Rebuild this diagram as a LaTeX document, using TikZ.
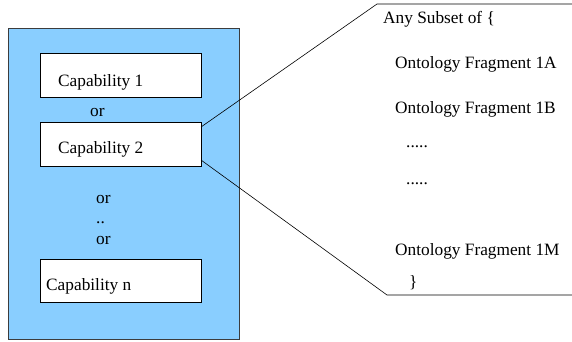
\documentclass[tikz,border=0pt]{standalone}
\usepackage{fontspec}
\setmainfont{Liberation Serif}
\newfontfamily\labelserif{Liberation Serif}
\usetikzlibrary{calc}
\definecolor{panelblue}{RGB}{137,206,255}
\definecolor{edgegray}{RGB}{60,60,60}
\tikzset{
  txt/.style={anchor=base west, inner sep=0pt, font=\labelserif\fontsize{17.3}{20}\selectfont},
  capbox/.style={draw=black, line width=0.6pt, fill=white},
  link/.style={draw=black, line width=0.6pt},
}
\begin{document}
\begin{tikzpicture}[x=1pt, y=-1pt]
  \useasboundingbox (0,0) rectangle (572,341);

  % capability container
  \filldraw[fill=panelblue, draw=edgegray, line width=0.8pt] (8.5,28.5) rectangle (239,339);

  % capability boxes
  \draw[capbox] (40,53) rectangle (201,97);
  \draw[capbox] (40,122) rectangle (201,166);
  \coordinate (cap2ne) at (201,122);
  \coordinate (cap2se) at (201,166);
  \draw[capbox] (40,259) rectangle (201,302);

  \node[txt] (t1) at (58,86) {Capability 1};
  \node[txt] (or1) at (90,116) {or};
  \node[txt] (t2) at (58,153) {Capability 2};
  \node[txt] (or2) at (96,203) {or};
  \node[txt] (dd) at (96,223) {..};
  \node[txt] (or3) at (96,244) {or};
  \node[txt] (tn) at (46,290) {Capability n};

  % callout outline
  \coordinate (ua) at ($(cap2ne)+(0,5)$);
  \coordinate (ub) at ($(cap2se)+(0,-6)$);
  \coordinate (topl) at (377,4);
  \coordinate (topr) at (572,4);
  \coordinate (botl) at (387,295);
  \coordinate (botr) at (572,295);
  \draw[link] (ua) -- (topl) -- (topr);
  \draw[link] (ub) -- (botl) -- (botr);

  % callout contents
  \node[txt] (any) at (383,23) {Any Subset of \{};
  \node[txt] (fa) at (395,68) {Ontology Fragment 1A};
  \node[txt] (fb) at (395,113) {Ontology Fragment 1B};
  \node[txt] (e1) at (406,147) {.....};
  \node[txt] (e2) at (406,184) {.....};
  \node[txt] (fm) at (395,255) {Ontology Fragment 1M};
  \node[txt] (close) at (409,287) {\}};
\end{tikzpicture}
\end{document}
